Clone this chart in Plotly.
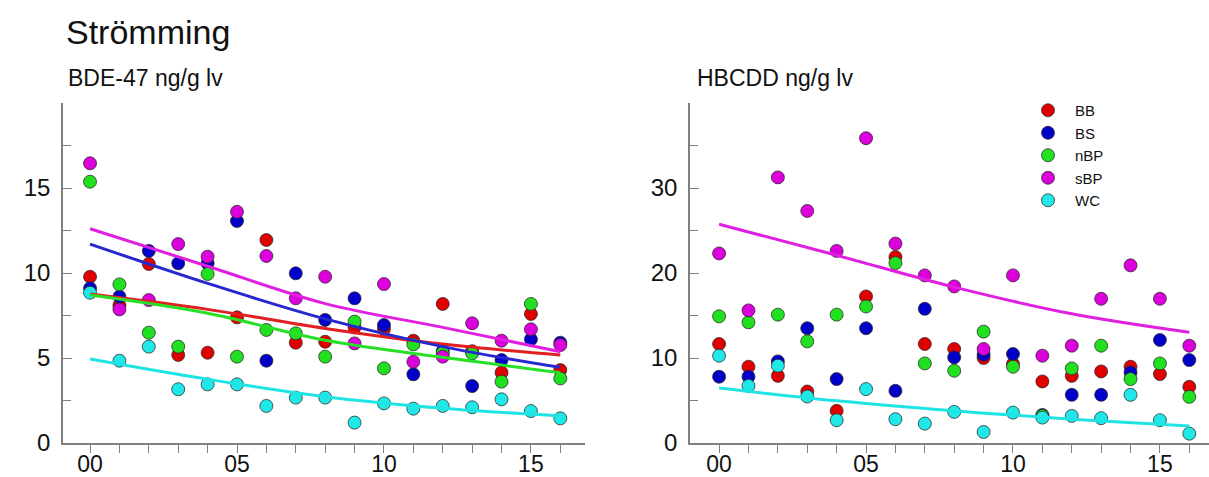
import plotly.graph_objects as go

# Sampling years (2000-2016, shown as two-digit labels)
years = list(range(0, 17))
year_ticks = [0, 5, 10, 15]
year_labels = ["00", "05", "10", "15"]

series_names = ["BB", "BS", "nBP", "sBP", "WC"]
marker_colors = ["#e00000", "#0000c8", "#20e020", "#dc00dc", "#20e8e8"]
line_colors = ["#e02020", "#2828d0", "#28e028", "#e020e0", "#20e4e4"]

# BDE-47, ng/g lipid weight
bde_bb = [9.78, 8.1, 10.53, 5.18, 5.31, 7.39, 11.94, 5.9, 5.96, 6.8, 6.7, 6.02, 8.18, 5.4, 4.14, 7.59, 4.29]
bde_bs = [9.1, 8.61, 11.3, 10.57, 10.57, 13.06, 4.84, 9.98, 7.24, 8.51, 6.94, 4.04, 5.4, 3.35, 4.88, 6.1, 5.9]
bde_nbp = [15.37, 9.33, 6.49, 5.67, 9.94, 5.08, 6.65, 6.45, 5.08, 7.14, 4.39, 5.8, 5.3, 5.27, 3.61, 8.18, 3.8]
bde_sbp = [16.45, 7.86, 8.41, 11.7, 10.96, 13.6, 11.0, 8.51, 9.78, 5.86, 9.35, 4.78, 5.08, 7.04, 6.02, 6.69, 5.76]
bde_wc = [8.84, 4.84, 5.67, 3.16, 3.45, 3.45, 2.18, 2.67, 2.67, 1.2, 2.33, 2.02, 2.18, 2.1, 2.57, 1.88, 1.45]

# HBCDD, ng/g lipid weight
hb_bb = [11.65, 8.97, 7.9, 6.06, 3.78, 17.24, 21.88, 11.65, 11.06, 10.0, 9.3, 7.24, 7.9, 8.42, 8.97, 8.11, 6.61]
hb_bs = [7.8, 7.8, 9.6, 13.5, 7.52, 13.5, 6.14, 15.79, 10.07, 10.4, 10.47, 3.3, 5.67, 5.67, 8.3, 12.12, 9.76]
hb_nbp = [14.9, 14.2, 15.1, 11.96, 15.1, 16.06, 21.17, 9.36, 8.5, 13.1, 8.97, 3.2, 8.77, 11.45, 7.52, 9.36, 5.43]
hb_sbp = [22.3, 15.6, 31.25, 27.3, 22.6, 35.86, 23.46, 19.72, 18.42, 11.06, 19.72, 10.27, 11.45, 16.97, 20.9, 16.97, 11.45]
hb_wc = [10.27, 6.73, 9.09, 5.47, 2.68, 6.34, 2.8, 2.28, 3.66, 1.3, 3.58, 2.99, 3.19, 2.92, 5.67, 2.68, 1.1]

# Fitted trend curves, sampled every fourth year
trend_years = [0, 4, 8, 12, 16]
bde_trend_bb = [8.76, 7.86, 6.74, 5.82, 5.18]
bde_trend_bs = [11.7, 9.39, 7.3, 5.67, 4.45]
bde_trend_nbp = [8.7, 7.63, 6.04, 5.04, 4.14]
bde_trend_sbp = [12.6, 10.4, 8.2, 6.8, 5.37]
bde_trend_wc = [4.94, 3.75, 2.72, 2.04, 1.59]
hb_trend_sbp = [25.74, 22.08, 18.34, 15.2, 13.02]
hb_trend_wc = [6.46, 4.96, 3.78, 2.8, 2.0]

W, H = 1209, 477
FONT = "Liberation Sans, Arial, Helvetica, sans-serif"

fig = go.Figure()

bde_points = [bde_bb, bde_bs, bde_nbp, bde_sbp, bde_wc]
hb_points = [hb_bb, hb_bs, hb_nbp, hb_sbp, hb_wc]

for i, name in enumerate(series_names):
    marker = dict(size=13, color=marker_colors[i],
                  line=dict(width=1, color="rgba(40,40,40,0.75)"))
    fig.add_trace(go.Scatter(x=years, y=bde_points[i], mode="markers", name=name,
                             marker=marker, xaxis="x", yaxis="y", showlegend=True))
    fig.add_trace(go.Scatter(x=years, y=hb_points[i], mode="markers", name=name,
                             marker=marker, xaxis="x2", yaxis="y2", showlegend=False))

bde_trends = [bde_trend_bb, bde_trend_bs, bde_trend_nbp, bde_trend_sbp, bde_trend_wc]
for i, tr in enumerate(bde_trends):
    fig.add_trace(go.Scatter(x=trend_years, y=tr, mode="lines",
                             line=dict(color=line_colors[i], width=3, shape="spline"),
                             xaxis="x", yaxis="y", showlegend=False, hoverinfo="skip"))
for i, tr in [(3, hb_trend_sbp), (4, hb_trend_wc)]:
    fig.add_trace(go.Scatter(x=trend_years, y=tr, mode="lines",
                             line=dict(color=line_colors[i], width=3, shape="spline"),
                             xaxis="x2", yaxis="y2", showlegend=False, hoverinfo="skip"))

axis_common = dict(showgrid=False, zeroline=False, showline=True, linecolor="#808080",
                   linewidth=1.5, tickcolor="#808080", tickwidth=1.2, automargin=False,
                   tickfont=dict(family=FONT, size=23, color="#111"))

def xaxis(domain, rng):
    return dict(axis_common, domain=domain, range=rng, tickmode="array",
                tickvals=year_ticks, ticktext=year_labels, ticks="outside", ticklen=8,
                ticklabelstandoff=-8,
                minor=dict(tickmode="linear", tick0=0, dtick=1, ticks="outside",
                           ticklen=8, tickcolor="#808080", tickwidth=1.2))

def yaxis(anchor, rng, major, minor_step):
    return dict(axis_common, anchor=anchor, domain=[1 - 443 / H, 1 - 103 / H], range=rng,
                tickmode="array", tickvals=major, ticks="inside", ticklen=9,
                ticklabelstandoff=6, tickfont=dict(family=FONT, size=24, color="#111"),
                minor=dict(tickmode="linear", tick0=0, dtick=minor_step, ticks="inside",
                           ticklen=8, tickcolor="#808080", tickwidth=1.2))

fig.update_layout(
    width=W, height=H,
    margin=dict(l=0, r=0, t=0, b=0),
    paper_bgcolor="white", plot_bgcolor="white",
    xaxis=xaxis([63 / W, 585 / W], [-0.92, 16.84]),
    yaxis=yaxis("x", [0, 20], [0, 5, 10, 15], 2.5),
    xaxis2=xaxis([690 / W, 1.0], [-0.99, 16.67]),
    yaxis2=yaxis("x2", [0, 40], [0, 10, 20, 30], 5),
    legend=dict(x=1021 / W, y=1 - 94 / H, xanchor="left", yanchor="top",
                font=dict(family=FONT, size=15, color="#111"),
                bgcolor="rgba(0,0,0,0)", tracegroupgap=0, itemsizing="trace",
                itemwidth=44),
    showlegend=True,
    annotations=[
        dict(text="Strömming", x=64 / W, y=1 - 11 / H, xref="paper", yref="paper",
             xanchor="left", yanchor="top", showarrow=False,
             font=dict(family=FONT, size=34, color="#111")),
        dict(text="BDE-47 ng/g lv", x=66 / W, y=1 - 63 / H, xref="paper", yref="paper",
             xanchor="left", yanchor="top", showarrow=False,
             font=dict(family=FONT, size=23, color="#111")),
        dict(text="HBCDD ng/g lv", x=695 / W, y=1 - 63 / H, xref="paper", yref="paper",
             xanchor="left", yanchor="top", showarrow=False,
             font=dict(family=FONT, size=23, color="#111")),
    ],
)

fig.write_html("out.html")
